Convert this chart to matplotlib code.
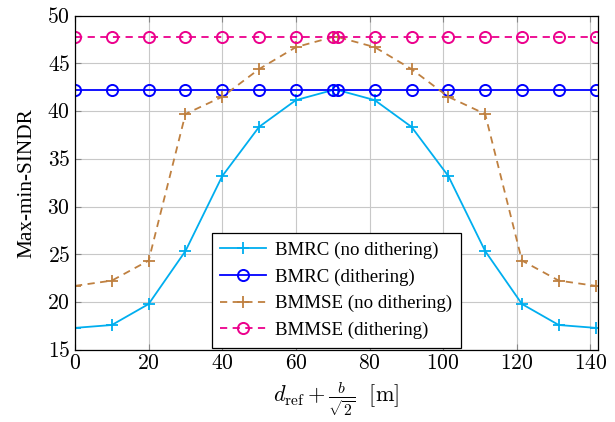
import numpy as np
import matplotlib
matplotlib.use("Agg")
import matplotlib.pyplot as plt
from matplotlib.ticker import FuncFormatter

# x positions: d_ref + b/sqrt(2), mirrored around the centre
x_left = [0, 10, 20, 30, 40, 50, 60, 70]
x_right = [71.4, 81.4, 91.4, 101.4, 111.4, 121.4, 131.4, 141.4]
x_vals = x_left + x_right

bmrc_nodith = [17.3, 17.6, 19.8, 25.35, 33.2, 38.35, 41.15, 42.2,
               42.2, 41.15, 38.35, 33.2, 25.35, 19.8, 17.6, 17.3]
bmrc_dith = [42.2] * 16
bmmse_nodith = [21.7, 22.25, 24.35, 39.7, 41.5, 44.4, 46.7, 47.75,
                47.75, 46.7, 44.4, 41.5, 39.7, 24.35, 22.25, 21.7]
bmmse_dith = [47.8] * 16

labels = ["BMRC (no dithering)", "BMRC (dithering)",
          "BMMSE (no dithering)", "BMMSE (dithering)"]

plt.rcParams['font.family'] = 'serif'
plt.rcParams['font.serif'] = ['Liberation Serif', 'DejaVu Serif']
plt.rcParams['mathtext.fontset'] = 'cm'

fig = plt.figure(figsize=(6.15, 4.22), dpi=100)
ax = fig.add_axes([0.122, 0.171, 0.85, 0.792])

cyan = '#00AEEF'
blue = '#0000FF'
brown = '#BF8040'
magenta = '#EC008C'

ax.plot(x_vals, bmrc_nodith, color=cyan, lw=1.3, marker='+', ms=9, mew=1.3,
        label=labels[0])
ax.plot(x_vals, bmrc_dith, color=blue, lw=1.3, marker='o', ms=8, mew=1.4,
        mfc='none', label=labels[1])
ax.plot(x_vals, bmmse_nodith, color=brown, lw=1.3, ls=(0, (4, 3)), marker='+',
        ms=9, mew=1.3, label=labels[2])
ax.plot(x_vals, bmmse_dith, color=magenta, lw=1.3, ls=(0, (4, 3)), marker='o',
        ms=8, mew=1.4, mfc='none', label=labels[3])

ax.set_xlim(0, 142)
ax.set_ylim(15, 50)
ax.set_xticks(np.arange(0, 141, 20))
ax.set_yticks(np.arange(15, 51, 5))
math_fmt = FuncFormatter(lambda v, pos: r'$%d$' % v)
ax.xaxis.set_major_formatter(math_fmt)
ax.yaxis.set_major_formatter(math_fmt)
ax.grid(True, color='#c8c8c8', lw=0.8)
ax.set_axisbelow(True)
ax.tick_params(direction='in', top=True, right=True, labelsize=15.5,
               length=4, color='#888888')
for s in ax.spines.values():
    s.set_linewidth(0.9)

ax.set_xlabel(r'$d_{\mathrm{ref}} + \frac{b}{\sqrt{2}}\ \ [\mathrm{m}]$',
              fontsize=16, labelpad=5)
ax.set_ylabel('Max-min-SINDR', fontsize=15.3, labelpad=8)

leg = ax.legend(loc='lower center', fontsize=13.6, fancybox=False, framealpha=1,
                edgecolor='black', borderaxespad=0.12, handlelength=2.4,
                labelspacing=0.5, borderpad=0.45, handletextpad=0.5)
leg.get_frame().set_linewidth(0.9)

fig.savefig('out.png', dpi=100)
